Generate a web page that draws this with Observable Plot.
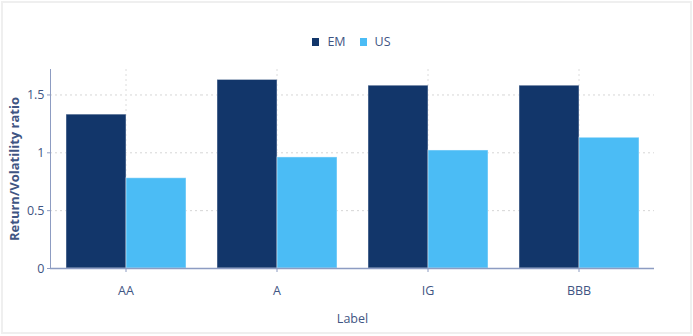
<!DOCTYPE html>
<html>
<head>
<meta charset="utf-8">
<script src="https://cdn.jsdelivr.net/npm/d3@7"></script>
<script src="https://cdn.jsdelivr.net/npm/@observablehq/plot@0.6"></script>
<style>
  body { margin: 0; background: #fff; }
  #wrap { position: relative; width: 693px; height: 336px; font-family: "Open Sans", sans-serif; }
  #border { position: absolute; left: 1px; top: 1px; width: 691px; height: 333px; box-sizing: border-box; border: 2px solid #efefef; pointer-events: none; }
  #legend { position: absolute; top: 33px; left: 0; width: 693px; display: flex; justify-content: center; align-items: center; font-size: 12.5px; color: #3f5583; padding-left: 10px; box-sizing: border-box; }
  .sw { display: inline-block; width: 7px; height: 8px; margin-right: 8px; }
  .item { display: inline-flex; align-items: center; margin: 0 7px; }
  #chart { position: absolute; left: 0; top: 0; }
</style>
</head>
<body>
<div id="wrap">
  <div id="chart"></div>
  <div id="legend"></div>
  <div id="border"></div>
</div>
<script>
const categories = ["AA", "A", "IG", "BBB"];
const seriesNames = ["EM", "US"];
const seriesColors = ["#12366a", "#4bbcf5"];
const emValues = [1.33, 1.63, 1.58, 1.58];
const usValues = [0.78, 0.96, 1.02, 1.13];
const yTicks = [0, 0.5, 1, 1.5];
const yTickLabels = ["0", "0.5", "1", "1.5"];
const xLabel = "Label";
const yLabel = "Return/Volatility ratio";

const data = categories.flatMap((c, i) => [
  {cat: c, series: seriesNames[0], value: emValues[i]},
  {cat: c, series: seriesNames[1], value: usValues[i]}
]);

const textColor = "#3f5583";
const axisColor = "#8d9cc2";

const chart = Plot.plot({
  width: 693,
  height: 336,
  marginLeft: 48,
  marginRight: 38,
  marginTop: 69,
  marginBottom: 68,
  style: {fontFamily: "Open Sans, sans-serif", fontSize: "12px", color: textColor, background: "transparent"},
  fx: {domain: categories, padding: 0},
  x: {domain: seriesNames, paddingInner: 0, paddingOuter: 0.25, axis: null},
  y: {domain: [0, 1.72]},
  color: {domain: seriesNames, range: seriesColors},
  marks: [
    Plot.gridY(yTicks.slice(1), {stroke: "#d6d6d6", strokeOpacity: 1, strokeDasharray: "2,3"}),
    Plot.gridFx(categories, {stroke: "#ececec", strokeOpacity: 1, strokeDasharray: "2,3"}),
    Plot.barY(data, {fx: "cat", x: "series", y: "value", fill: "series", stroke: "#ffffff", strokeOpacity: 0.45, strokeWidth: 1}),
    Plot.ruleY([0], {stroke: axisColor, strokeWidth: 1.5}),
    Plot.frame({anchor: "left", facetAnchor: "left", stroke: axisColor, strokeWidth: 1}),
    Plot.axisY({ticks: yTicks, tickFormat: (d) => yTickLabels[yTicks.indexOf(d)], tickSize: 3, stroke: axisColor, color: textColor, fontSize: 12.5, label: yLabel, labelAnchor: "center", labelOffset: 41, labelArrow: false, tickPadding: 3}),
    Plot.axisFx({anchor: "bottom", tickSize: 4, stroke: axisColor, color: textColor, fontSize: 12.5, label: xLabel, labelAnchor: "center", labelOffset: 54, labelArrow: false, tickPadding: 14})
  ]
});
document.getElementById("chart").appendChild(chart);

d3.select(chart).selectAll("text").filter(function() { return this.textContent === yLabel; })
  .attr("font-weight", "bold").style("font-size", "13px");

const legend = d3.select("#legend");
seriesNames.forEach((s, i) => {
  const item = legend.append("span").attr("class", "item");
  item.append("span").attr("class", "sw").style("background", seriesColors[i]);
  item.append("span").text(s);
});
</script>
</body>
</html>
